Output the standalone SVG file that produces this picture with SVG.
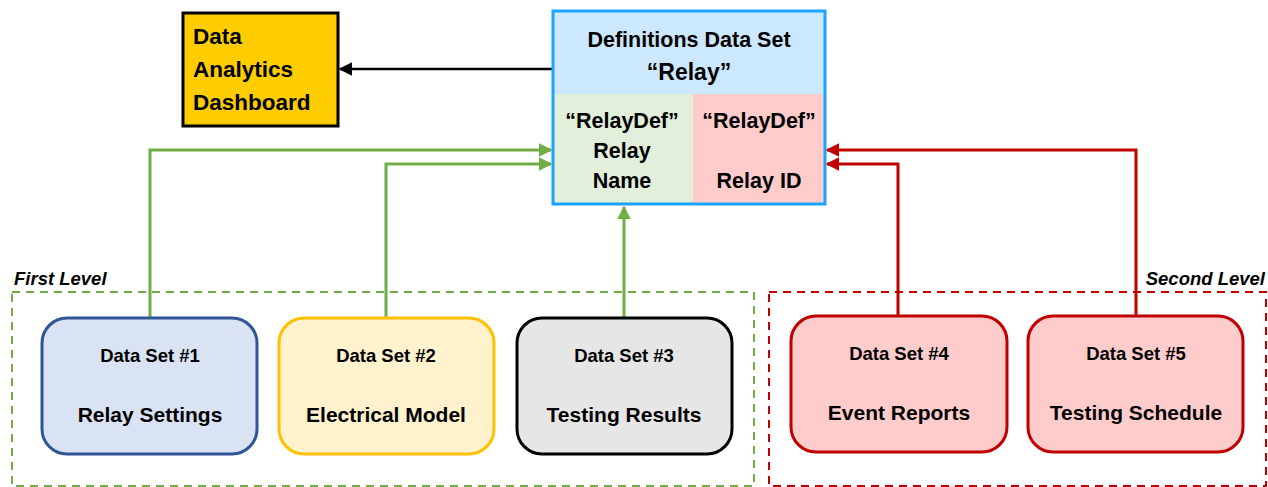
<svg xmlns="http://www.w3.org/2000/svg" width="1268" height="487" viewBox="0 0 1268 487">
<style>
text{font-family:"Liberation Sans",Arial,sans-serif;font-weight:bold;fill:#000}
.c{text-anchor:middle}
.h{font-size:21.5px}
.d{font-size:22.5px}
.s{font-size:18.5px}
.l{font-size:21px}
.lvl{font-size:18.5px;font-style:italic}
.g{stroke:#70AD47;stroke-width:3;fill:none}
.r{stroke:#C00000;stroke-width:3;fill:none}
</style>
<defs>
<marker id="ag" viewBox="0 0 10 10" refX="9" refY="5" markerWidth="4.5" markerHeight="4.5" orient="auto" markerUnits="strokeWidth"><path d="M0,0L10,5L0,10z" fill="#70AD47"/></marker>
<marker id="ar" viewBox="0 0 10 10" refX="9" refY="5" markerWidth="4.5" markerHeight="4.5" orient="auto" markerUnits="strokeWidth"><path d="M0,0L10,5L0,10z" fill="#C00000"/></marker>
<marker id="ak" viewBox="0 0 10 10" refX="9" refY="5" markerWidth="5.5" markerHeight="5.5" orient="auto" markerUnits="strokeWidth"><path d="M0,0L10,5L0,10z" fill="#000"/></marker>
</defs>
<g id="level1">
<rect x="12" y="292" width="742" height="194" fill="none" stroke="#70AD47" stroke-width="2" stroke-dasharray="8,6"/>
<text class="lvl" x="14" y="285">First Level</text>
</g>
<g id="level2">
<rect x="769" y="292" width="497" height="194" fill="none" stroke="#C00000" stroke-width="2" stroke-dasharray="8,6"/>
<text class="lvl" x="1265" y="285" text-anchor="end">Second Level</text>
</g>
<g id="connectors">
<line x1="552" y1="69" x2="340" y2="69" stroke="#000" stroke-width="2.5" marker-end="url(#ak)"/>
<polyline class="g" points="150,318 150,150 551,150" marker-end="url(#ag)"/>
<polyline class="g" points="386,318 386,164 551,164" marker-end="url(#ag)"/>
<polyline class="g" points="624,318 624,207" marker-end="url(#ag)"/>
<polyline class="r" points="898,316 898,164 827,164" marker-end="url(#ar)"/>
<polyline class="r" points="1136,316 1136,150 827,150" marker-end="url(#ar)"/>
</g>
<g id="dashboard">
<rect x="183" y="13" width="155" height="113" fill="#FFCC00" stroke="#000" stroke-width="3"/>
<text class="d" x="193" y="44">Data</text>
<text class="d" x="193" y="77">Analytics</text>
<text class="d" x="193" y="110">Dashboard</text>
</g>
<g id="definitions">
<rect x="553" y="11" width="272" height="83" fill="#CCE8FF"/>
<rect x="553" y="94" width="140" height="110" fill="#E2EFDA"/>
<rect x="693" y="94" width="132" height="110" fill="#FFCCCC"/>
<rect x="553" y="11" width="272" height="193" fill="none" stroke="#1AA3FF" stroke-width="3"/>
<text class="h c" x="689" y="47">Definitions Data Set</text>
<text class="c" x="689" y="80" style="font-size:23px">“Relay”</text>
<text class="h c" x="622" y="128">“RelayDef”</text>
<text class="h c" x="622" y="158">Relay</text>
<text class="h c" x="622" y="188">Name</text>
<text class="h c" x="759" y="128">“RelayDef”</text>
<text class="h c" x="759" y="188">Relay ID</text>
</g>
<g id="ds1">
<rect x="42" y="318" width="215" height="136" rx="25" fill="#DAE3F3" stroke="#2F5597" stroke-width="3"/>
<text class="s c" x="150" y="362">Data Set #1</text>
<text class="l c" x="150" y="422">Relay Settings</text>
</g>
<g id="ds2">
<rect x="279" y="318" width="215" height="136" rx="25" fill="#FFF2CC" stroke="#FFC000" stroke-width="3"/>
<text class="s c" x="386" y="362">Data Set #2</text>
<text class="l c" x="386" y="422">Electrical Model</text>
</g>
<g id="ds3">
<rect x="517" y="318" width="215" height="136" rx="25" fill="#E6E6E6" stroke="#000" stroke-width="3"/>
<text class="s c" x="624" y="362">Data Set #3</text>
<text class="l c" x="624" y="422">Testing Results</text>
</g>
<g id="ds4">
<rect x="791" y="316" width="216" height="136" rx="25" fill="#FFCCCC" stroke="#C00000" stroke-width="3"/>
<text class="s c" x="899" y="360">Data Set #4</text>
<text class="l c" x="899" y="420">Event Reports</text>
</g>
<g id="ds5">
<rect x="1028" y="316" width="215" height="136" rx="25" fill="#FFCCCC" stroke="#C00000" stroke-width="3"/>
<text class="s c" x="1136" y="360">Data Set #5</text>
<text class="l c" x="1136" y="420">Testing Schedule</text>
</g>
</svg>
